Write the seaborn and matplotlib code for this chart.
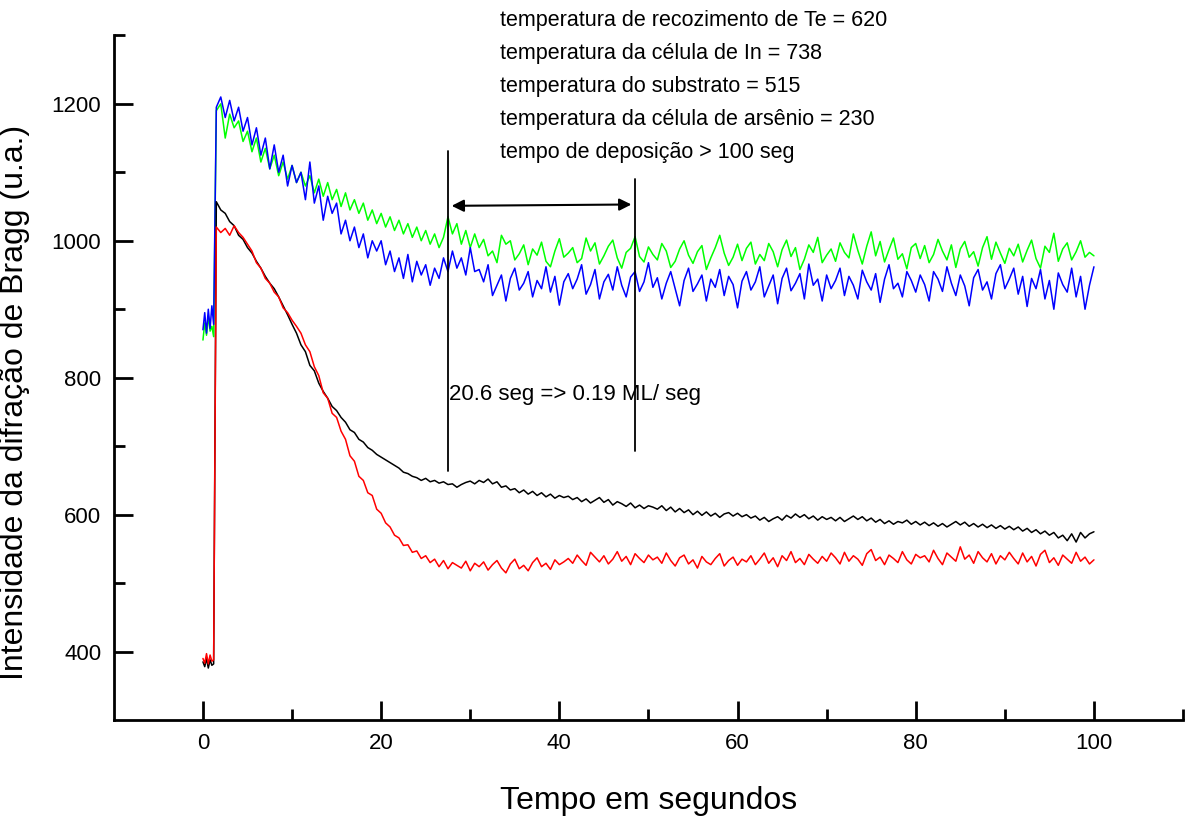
import numpy as np
import pandas as pd
import matplotlib
matplotlib.use("Agg")
import matplotlib.pyplot as plt
import seaborn as sns

# ---------------- data ----------------
t_pre = [0.0, 0.2, 0.4, 0.6, 0.8, 1.0, 1.2]
t_main = list(np.round(np.arange(1.5, 100.01, 0.5), 2))

green_pre = [855, 880, 862, 890, 868, 875, 860]
blue_pre = [870, 895, 865, 900, 872, 905, 878]
black_pre = [385, 378, 390, 376, 388, 380, 382]
red_pre = [390, 383, 397, 382, 395, 386, 388]

green = [
    1190, 1200, 1150, 1185, 1165, 1175, 1145, 1160, 1130, 1150, 1115, 1135, 1105, 1125, 1095, 1115, 1090, 1110, 1085,
    1100, 1080, 1095, 1070, 1090, 1065, 1085, 1060, 1075, 1050, 1070, 1045, 1060, 1040, 1055, 1030, 1045, 1025, 1040, 1020,
    1035, 1015, 1030, 1010, 1025, 1005, 1020, 1000, 1015, 995, 1010, 990, 1005, 1035, 1010, 1025, 995, 1015, 990, 1010,
    990, 1002, 978, 985, 968, 1008, 995, 1000, 972, 981, 994, 965, 988, 979, 998, 970, 962, 985, 1003, 976,
    982, 990, 968, 974, 1004, 985, 997, 966, 978, 992, 1001, 975, 960, 983, 989, 1006, 977, 969, 991, 980,
    972, 996, 985, 961, 970, 988, 1000, 979, 967, 984, 993, 958, 975, 990, 1008, 982, 964, 976, 995, 971,
    989, 998, 966, 980, 971, 996, 984, 962, 987, 1001, 977, 990, 958, 973, 994, 983, 1005, 968, 979, 988,
    970, 997, 983, 975, 1010, 986, 966, 992, 1013, 978, 999, 969, 987, 1004, 973, 981, 959, 990, 996, 974,
    993, 968, 980, 1002, 985, 972, 994, 961, 988, 999, 976, 984, 963, 990, 1006, 973, 998, 982, 967, 989,
    978, 995, 969, 986, 1001, 974, 960, 992, 983, 1011, 970, 988, 997, 972, 984, 1000, 976, 983, 978,
]

blue = [
    1195, 1210, 1180, 1205, 1175, 1195, 1160, 1180, 1140, 1165, 1125, 1150, 1105, 1140, 1100, 1125, 1080, 1110, 1085,
    1100, 1060, 1115, 1055, 1080, 1030, 1065, 1040, 1055, 1010, 1030, 1000, 1020, 990, 1010, 975, 1000, 985, 1000, 965,
    985, 955, 975, 945, 980, 940, 970, 950, 965, 935, 960, 945, 975, 955, 985, 960, 975, 950, 990, 955,
    958, 940, 965, 920, 935, 950, 912, 945, 960, 928, 938, 955, 918, 942, 930, 962, 925, 948, 906, 940,
    952, 930, 944, 965, 922, 936, 958, 915, 940, 951, 928, 962, 935, 918, 947, 955, 926, 940, 968, 932,
    946, 915, 938, 955, 930, 905, 942, 960, 926, 937, 950, 912, 944, 932, 958, 920, 948, 936, 902, 941,
    955, 928, 940, 962, 918, 934, 950, 908, 945, 960, 927, 938, 952, 915, 966, 935, 944, 912, 950, 930,
    942, 960, 920, 948, 935, 915, 957, 940, 928, 952, 910, 944, 965, 930, 938, 918, 955, 942, 925, 950,
    936, 912, 955, 944, 926, 962, 938, 920, 950, 934, 905, 946, 958, 928, 940, 915, 952, 965, 930, 944,
    960, 922, 948, 904, 945, 930, 958, 915, 942, 900, 953, 936, 925, 960, 918, 948, 900, 935, 962,
]

black = [
    1057, 1045, 1040, 1028, 1022, 1008, 1002, 990, 982, 970, 960, 948, 938, 930, 918, 905, 892, 878, 865,
    848, 838, 818, 810, 792, 780, 770, 758, 752, 742, 735, 724, 720, 710, 706, 698, 694, 688, 684, 680,
    676, 672, 668, 662, 660, 656, 654, 650, 653, 648, 650, 646, 648, 644, 645, 640, 644, 647, 649, 645,
    650, 647, 652, 645, 648, 640, 642, 636, 638, 632, 636, 630, 634, 628, 632, 626, 630, 624, 628, 625,
    627, 622, 625, 619, 623, 617, 621, 625, 618, 622, 614, 619, 616, 612, 617, 610, 614, 609, 613, 611,
    608, 613, 606, 611, 604, 609, 603, 607, 600, 605, 599, 604, 598, 602, 596, 601, 603, 598, 602, 597,
    600, 595, 598, 592, 596, 590, 594, 597, 592, 599, 595, 601, 596, 600, 594, 598, 592, 597, 593, 596,
    591, 596, 590, 594, 598, 593, 597, 591, 595, 589, 593, 587, 591, 586, 590, 588, 592, 586, 590, 585,
    589, 584, 588, 583, 587, 582, 586, 590, 585, 589, 583, 587, 582, 586, 581, 585, 580, 584, 579, 583,
    578, 582, 576, 580, 574, 578, 572, 576, 570, 574, 566, 570, 562, 572, 560, 574, 566, 572, 575,
]

red = [
    1020, 1012, 1018, 1008, 1022, 1012, 1005, 995, 985, 968, 960, 945, 938, 925, 918, 902, 895, 884, 875,
    865, 848, 838, 816, 803, 778, 770, 748, 742, 722, 710, 686, 678, 656, 650, 632, 628, 608, 602, 588,
    582, 570, 566, 555, 556, 545, 547, 536, 540, 530, 535, 524, 533, 521, 530, 526, 522, 532, 518, 529,
    524, 531, 519, 527, 533, 522, 515, 528, 535, 521, 526, 518, 530, 537, 524, 529, 520, 534, 527, 531,
    536, 529, 541, 533, 526, 545, 538, 531, 540, 528, 535, 546, 532, 539, 527, 543, 536, 530, 541, 534,
    538, 529, 544, 533, 525, 537, 541, 528, 534, 522, 539, 531, 527, 536, 543, 525, 533, 538, 526, 535,
    531, 540, 527, 535, 544, 529, 537, 524, 540, 533, 546, 530, 536, 527, 542, 535, 529, 539, 532, 544,
    537, 528, 545, 532, 540, 535, 526, 543, 549, 533, 538, 527, 541, 536, 530, 546, 534, 528, 542, 537,
    540, 531, 548, 536, 527, 544, 538, 532, 553, 535, 541, 529, 546, 537, 531, 543, 528, 540, 534, 545,
    536, 528, 544, 531, 539, 525, 542, 548, 530, 537, 526, 541, 535, 529, 545, 532, 538, 528, 534,
]

series_names = ["verde", "azul", "preto", "vermelho"]
series_colors = ["#00ff00", "#0000ff", "#000000", "#ff0000"]

info_lines = [
    "temperatura de recozimento de Te = 620",
    "temperatura da célula de In = 738",
    "temperatura do substrato = 515",
    "temperatura da célula de arsênio = 230",
    "tempo de deposição > 100 seg",
]
marker_x = [27.5, 48.5]
marker_y0 = [664, 693]
marker_y1 = [1131, 1090]
arrow_y = 1051
rate_text = "20.6 seg => 0.19 ML/ seg"
rate_pos = (27.6, 776)

x_ticks = [0, 20, 40, 60, 80, 100]
y_ticks = [400, 600, 800, 1000, 1200]

# ---------------- build dataframe ----------------
tt = t_pre + t_main
frames = []
for name, pre, vals in zip(series_names,
                           [green_pre, blue_pre, black_pre, red_pre],
                           [green, blue, black, red]):
    frames.append(pd.DataFrame({"t": tt, "v": pre + vals, "s": name}))
df = pd.concat(frames, ignore_index=True)

# ---------------- plot ----------------
sns.set_style("white")
plt.rcParams["font.family"] = ["Liberation Sans", "DejaVu Sans"]

fig = plt.figure(figsize=(11.86, 8.22), dpi=100)
ax = fig.add_axes([0.096, 0.124, 0.9015, 0.833])

sns.lineplot(data=df, x="t", y="v", hue="s", palette=dict(zip(series_names, series_colors)),
             hue_order=series_names, linewidth=1.1, legend=False, ax=ax, sort=False,
             estimator=None)

ax.set_xlim(-10, 110)
ax.set_ylim(300, 1300)
ax.set_xticks(x_ticks)
ax.set_yticks(y_ticks)
ax.set_xticks([10, 30, 50, 70, 90, 110], minor=True)
ax.set_yticks([500, 700, 900, 1100, 1300], minor=True)
ax.tick_params(axis="both", which="both", bottom=True, left=True, top=False, right=False)
ax.tick_params(axis="both", which="major", direction="in", length=14, width=2,
               labelsize=16, colors="black", pad=9)
ax.tick_params(axis="both", which="minor", direction="in", length=8, width=2, colors="black")
for side in ["top", "right"]:
    ax.spines[side].set_visible(False)
for side in ["left", "bottom"]:
    ax.spines[side].set_linewidth(2)
    ax.spines[side].set_color("black")

ax.set_xlabel("Tempo em segundos", fontsize=23, color="black")
ax.xaxis.set_label_coords(0.5, -0.097)
ax.set_ylabel("Intensidade da difração de Bragg (u.a.)", fontsize=23, color="black")
ax.yaxis.set_label_coords(-0.078, 0.464)

# annotations
for xm, y0, y1 in zip(marker_x, marker_y0, marker_y1):
    ax.plot([xm, xm], [y0, y1], color="black", lw=1.3)
ax.annotate("", xy=(marker_x[0] + 0.1, arrow_y), xytext=(marker_x[1] - 0.1, arrow_y + 2),
            arrowprops=dict(arrowstyle="<|-|>", color="black", lw=1.5, mutation_scale=18))
ax.text(rate_pos[0], rate_pos[1], rate_text, fontsize=16, va="center", ha="left", color="black")

fig.text(500 / 1186, 1 - 10 / 822, "\n".join(info_lines), fontsize=15.5, va="top", ha="left",
         linespacing=1.75, color="black")

fig.savefig("out.png", dpi=100)
